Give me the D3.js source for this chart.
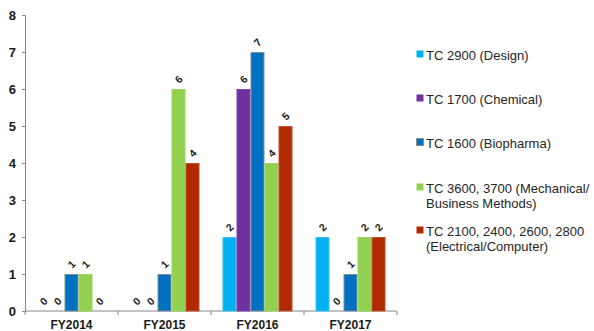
<!DOCTYPE html>
<html>
<head>
<meta charset="utf-8">
<script src="https://cdn.jsdelivr.net/npm/d3@7"></script>
<style>
  html, body { margin: 0; padding: 0; background: #fff; }
  svg { display: block; font-family: "Liberation Sans", Arial, sans-serif; }
</style>
</head>
<body>
<svg id="chart" width="594" height="331"></svg>
<script>
// Fiscal years on the category axis
const years = ["FY2014", "FY2015", "FY2016", "FY2017"];

// Technology centers (legend lines are pre-split where they wrap)
const seriesNames = [
  ["TC 2900 (Design)"],
  ["TC 1700 (Chemical)"],
  ["TC 1600 (Biopharma)"],
  ["TC 3600, 3700 (Mechanical/", "Business Methods)"],
  ["TC 2100, 2400, 2600, 2800", "(Electrical/Computer)"]
];

// Counts per technology center, one value per fiscal year
const design      = [0, 0, 2, 2];
const chemical    = [0, 0, 6, 0];
const biopharma   = [1, 1, 7, 1];
const mechanical  = [1, 6, 4, 2];
const electrical  = [0, 4, 5, 2];

const yTicks = [0, 1, 2, 3, 4, 5, 6, 7, 8];

const seriesValues = [design, chemical, biopharma, mechanical, electrical];
const colors  = ["#00B0F0", "#7030A0", "#0070C0", "#92D050", "#B22A00"];
const strokes = ["#3CC3F3", "#7D45A8", "#7F8C99", "#9DD563", "#C05030"];

const svg = d3.select("#chart");

const plot = { left: 25, right: 397, top: 15, bottom: 311 };

const x0 = d3.scaleBand()
  .domain(years)
  .range([plot.left, plot.right])
  .paddingInner(0)
  .paddingOuter(0);

const x1 = d3.scaleBand()
  .domain(d3.range(seriesValues.length))
  .range([0, x0.bandwidth()])
  .paddingOuter(0.82)
  .paddingInner(0);

const y = d3.scaleLinear().domain([0, 8]).range([plot.bottom, plot.top]);

// Y axis
const yAxis = svg.append("g")
  .attr("transform", `translate(${plot.left},0)`)
  .call(d3.axisLeft(y).tickValues(yTicks).tickSize(3).tickPadding(6).tickFormat(d3.format("d")));
yAxis.select(".domain").attr("stroke", "#868686");
yAxis.selectAll(".tick line").attr("stroke", "#868686");
yAxis.selectAll(".tick text")
  .attr("fill", "#1a1a1a")
  .attr("font-size", 13)
  .attr("font-weight", "bold")
  .attr("font-family", "Liberation Sans, Arial, sans-serif");

// X axis with ticks at category boundaries
const xAxisG = svg.append("g").attr("transform", `translate(0,${plot.bottom})`);
xAxisG.append("line")
  .attr("x1", plot.left).attr("x2", plot.right)
  .attr("y1", 0).attr("y2", 0)
  .attr("stroke", "#868686");
const boundaries = years.map(d => x0(d)).concat([x0(years[years.length - 1]) + x0.bandwidth()]);
xAxisG.selectAll(".bt").data(boundaries).join("line")
  .attr("x1", d => d).attr("x2", d => d)
  .attr("y1", 0).attr("y2", 4)
  .attr("stroke", "#868686");
xAxisG.selectAll(".cat").data(years).join("text")
  .attr("x", d => x0(d) + x0.bandwidth() / 2)
  .attr("y", 18)
  .attr("text-anchor", "middle")
  .attr("font-size", 12)
  .attr("font-weight", "bold")
  .attr("fill", "#1a1a1a")
  .text(d => d);

// Bars
const groups = svg.append("g").selectAll("g").data(years).join("g")
  .attr("transform", d => `translate(${x0(d)},0)`);

groups.each(function (year, yi) {
  const g = d3.select(this);
  seriesValues.forEach((vals, si) => {
    const v = vals[yi];
    const bx = x1(si);
    const bw = x1.bandwidth();
    if (v > 0) {
      g.append("rect")
        .attr("x", bx + 0.5)
        .attr("y", y(v) + 0.5)
        .attr("width", bw - 1)
        .attr("height", y(0) - y(v) - 0.5)
        .attr("fill", colors[si])
        .attr("stroke", strokes[si])
        .attr("stroke-width", 1);
    }
    // value label, rotated
    const lx = bx + bw / 2;
    const ly = y(v) - 10;
    g.append("text")
      .attr("transform", `translate(${lx},${ly}) rotate(-45)`)
      .attr("text-anchor", "middle")
      .attr("dominant-baseline", "central")
      .attr("font-size", 10.5)
      .attr("font-weight", "bold")
      .attr("fill", "#1a1a1a")
      .text(v);
  });
});

// Legend
const legendRows = [55, 99, 143, 188, 231];
const legend = svg.append("g");
seriesNames.forEach((lines, i) => {
  const cy = legendRows[i];
  legend.append("rect")
    .attr("x", 416.5).attr("y", cy - 4.5)
    .attr("width", 7).attr("height", 7)
    .attr("fill", colors[i])
    .attr("stroke", i === 2 ? "#8c8c8c" : "none");
  lines.forEach((t, li) => {
    legend.append("text")
      .attr("x", 426)
      .attr("y", cy + li * 15.5)
      .attr("dominant-baseline", "central")
      .attr("font-size", 13)
      .attr("fill", "#262626")
      .text(t);
  });
});
</script>
</body>
</html>
